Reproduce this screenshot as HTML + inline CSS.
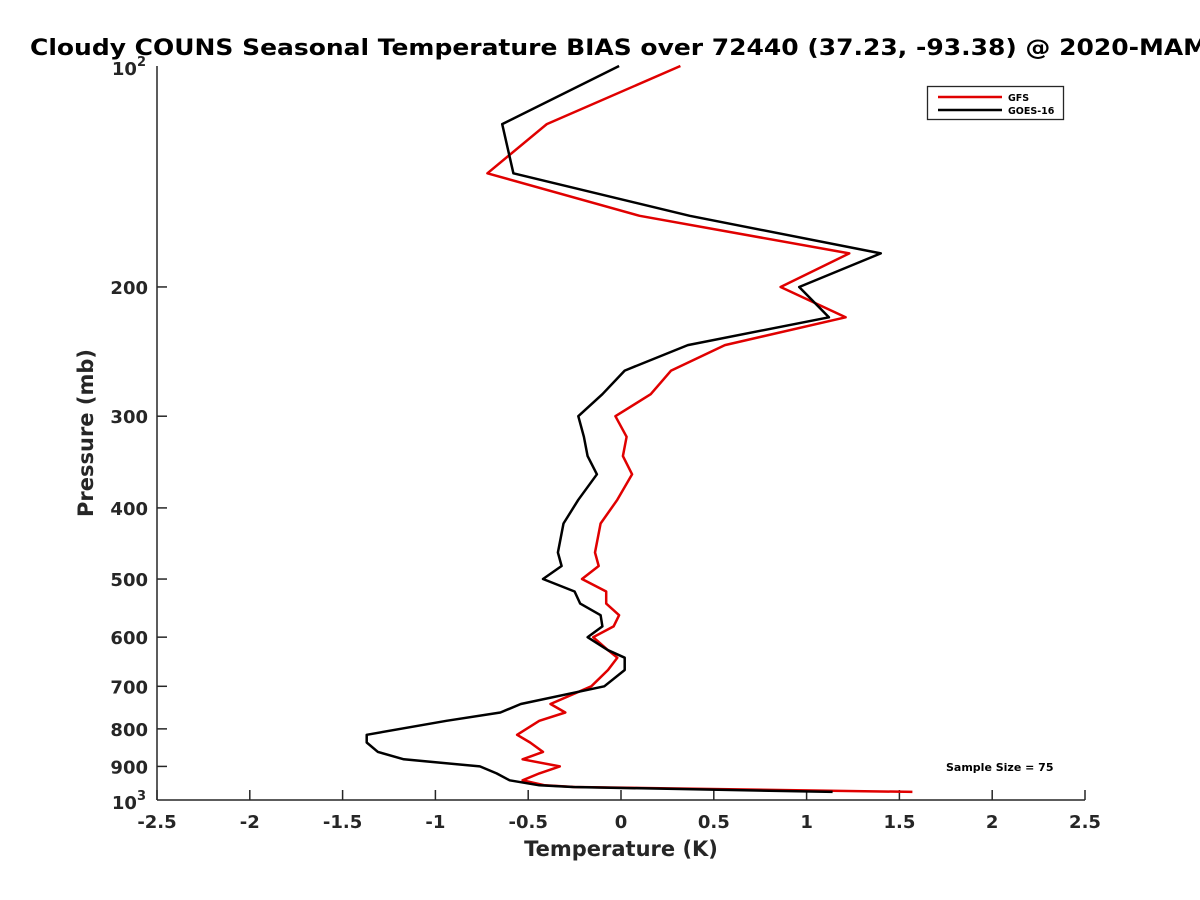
<!DOCTYPE html>
<html><head><meta charset="utf-8"><style>
body{margin:0;background:#fff;overflow:hidden;}
svg{display:block;font-family:"DejaVu Sans","Liberation Sans",sans-serif;font-weight:bold;}
</style></head><body>
<svg id="chart" width="1200" height="900" viewBox="0 0 1200 900">
<rect width="1200" height="900" fill="#fff"/>
<text x="30" y="55" font-size="22" fill="#000" textLength="1178" lengthAdjust="spacingAndGlyphs">Cloudy COUNS Seasonal Temperature BIAS over 72440 (37.23, -93.38) @ 2020-MAM</text>
<g id="axes"></g>
<g id="series"></g>
<text x="621" y="856" font-size="21" text-anchor="middle" fill="#262626">Temperature (K)</text>
<text transform="translate(93,433) rotate(-90)" font-size="21" text-anchor="middle" fill="#262626">Pressure (mb)</text>
<g>
<rect x="927.5" y="86.5" width="136" height="33" fill="#fff" stroke="#262626" stroke-width="1.3"/>
<line x1="938" y1="97" x2="1002" y2="97" stroke="#e00000" stroke-width="2.5"/>
<line x1="938" y1="110" x2="1002" y2="110" stroke="#000" stroke-width="2.5"/>
<text x="1008" y="101" font-size="9.5" fill="#000">GFS</text>
<text x="1008" y="114" font-size="9.5" fill="#000">GOES-16</text>
</g>
<text x="946" y="771" font-size="11" fill="#000">Sample Size = 75</text>
</svg>
<script>
const pressure=[100,120,140,160,180,200,220,240,260,280,300,320,340,360,390,420,460,480,500,520,540,560,580,600,625,640,665,700,740,760,780,815,835,860,880,900,920,940,955,960,975];
const gfs=[0.32,-0.40,-0.72,0.10,1.23,0.86,1.21,0.56,0.27,0.16,-0.03,0.03,0.01,0.06,-0.02,-0.11,-0.14,-0.12,-0.21,-0.08,-0.08,-0.01,-0.04,-0.15,-0.07,-0.02,-0.07,-0.16,-0.38,-0.30,-0.44,-0.56,-0.49,-0.42,-0.53,-0.33,-0.44,-0.53,-0.41,-0.25,1.57];
const goes=[-0.01,-0.64,-0.58,0.37,1.40,0.96,1.12,0.36,0.02,-0.10,-0.23,-0.20,-0.18,-0.13,-0.23,-0.31,-0.34,-0.32,-0.42,-0.25,-0.22,-0.11,-0.10,-0.18,-0.07,0.02,0.02,-0.09,-0.54,-0.65,-0.94,-1.37,-1.37,-1.31,-1.17,-0.76,-0.67,-0.60,-0.44,-0.26,1.14];
const xTicks=[-2.5,-2,-1.5,-1,-0.5,0,0.5,1,1.5,2,2.5];
const xTickLabels=["-2.5","-2","-1.5","-1","-0.5","0","0.5","1","1.5","2","2.5"];
const yTicks=[200,300,400,500,600,700,800,900];
const NS='http://www.w3.org/2000/svg';
const X0=157,X1=1085,Y0=66,Y1=800;
function xs(t){return X0+(t+2.5)/5*(X1-X0);}
function ys(p){return Y0+Math.log10(p/100)*(Y1-Y0);}
function mk(tag,attrs,parent){const e=document.createElementNS(NS,tag);for(const k in attrs)e.setAttribute(k,attrs[k]);parent.appendChild(e);return e;}
const ax=document.getElementById('axes');
const xl=mk('line',{x1:X0,y1:Y1,x2:X1,y2:Y1,stroke:'#262626','stroke-width':1.5},ax);


const yl=mk('line',{x1:X0,y1:Y0,x2:X0,y2:Y1,stroke:'#262626','stroke-width':1.5},ax);


xTicks.forEach((t,i)=>{
 mk('line',{x1:xs(t),y1:Y1,x2:xs(t),y2:Y1-10,stroke:'#262626','stroke-width':1.5},ax);
 const tx=mk('text',{x:xs(t),y:Y1+28,'font-size':18,'text-anchor':'middle',fill:'#262626'},ax);
 tx.textContent=xTickLabels[i];
 
 
});
yTicks.forEach(p=>{
 mk('line',{x1:X0,y1:ys(p),x2:X0+10,y2:ys(p),stroke:'#262626','stroke-width':1.5},ax);
 const tx=mk('text',{x:X0-9,y:ys(p)+7,'font-size':18,'text-anchor':'end',fill:'#262626'},ax);
 tx.textContent=String(p);
 
 
});
[[100,Y0],[1000,Y1]].forEach(([p,y])=>{
 const tx=mk('text',{x:X0-11,y:y+9,'font-size':18,'text-anchor':'end',fill:'#262626'},ax);
 tx.innerHTML='10<tspan dy="-9" font-size="13">'+(p===100?'2':'3')+'</tspan>';
 
 
});
const sg=document.getElementById('series');
function line(vals,color,name){
 const d=vals.map((v,i)=>(i?'L':'M')+xs(v).toFixed(1)+','+ys(pressure[i]).toFixed(1)).join(' ');
 const p=mk('path',{d:d,fill:'none',stroke:color,'stroke-width':2.5,'stroke-linejoin':'round'},sg);
 
 
}
line(gfs,'#e00000','gfs-line');
line(goes,'#000','goes16-line');
</script>
</body></html>
